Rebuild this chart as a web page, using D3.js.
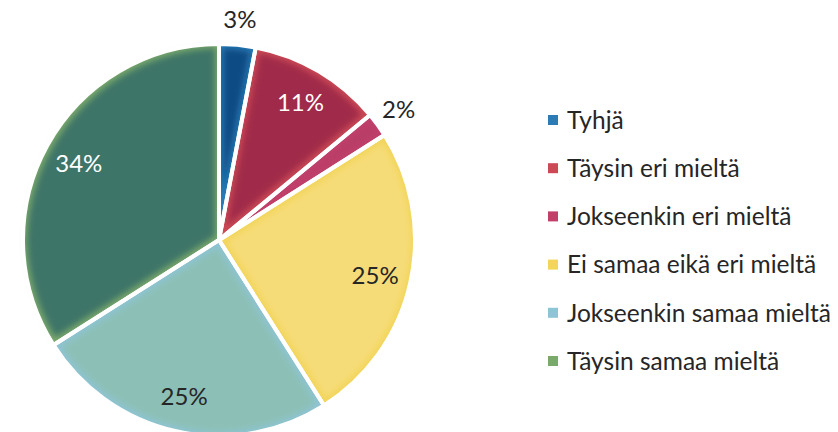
<!DOCTYPE html>
<html>
<head>
<meta charset="utf-8">
<script src="https://cdn.jsdelivr.net/npm/d3@7"></script>
<style>
  body { margin: 0; background: #fff; }
  svg text { font-family: Lato, "Open Sans", sans-serif; }
</style>
</head>
<body>
<svg id="chart"></svg>
<script>
var width = 838,
    height = 432;

var categories = ["Tyhjä", "Täysin eri mieltä", "Jokseenkin eri mieltä",
                  "Ei samaa eikä eri mieltä", "Jokseenkin samaa mieltä", "Täysin samaa mieltä"];
var shares = [3, 11, 2, 25, 25, 34];
var edgeColors = ["#2a7bb6", "#cc4a55", "#c0406a", "#f2d55a", "#8ec4d4", "#7ba96c"];
var coreColors = ["#0b4b84", "#a02b4a", "#b83c66", "#f6dc78", "#8cc0b6", "#3c7467"];
var labelColors = ["#262626", "#ffffff", "#262626", "#262626", "#262626", "#ffffff"];
var outside = [true, false, true, false, false, false];

var cx = 219, cy = 240, radius = 196;

var svg = d3.select('#chart')
            .attr('width', width)
            .attr('height', height);

var defs = svg.append('defs');
var filt = defs.append('filter')
      .attr('id', 'soft')
      .attr('x', '-10%').attr('y', '-10%')
      .attr('width', '120%').attr('height', '120%');
filt.append('feMorphology').attr('operator', 'erode').attr('radius', 4);
filt.append('feGaussianBlur').attr('stdDeviation', 3);

var pie = d3.pie().sort(null);
var arc = d3.arc().innerRadius(0).outerRadius(radius);
var inLabel = d3.arc().innerRadius(160).outerRadius(160);
var outLabel = d3.arc().innerRadius(222).outerRadius(222);

var slices = pie(shares);

var g = svg.append('g')
      .attr('transform', 'translate(' + cx + ',' + cy + ')');

// edge colour underneath, darker core on top with a soft fade
g.selectAll('.edge')
  .data(slices)
  .enter()
  .append('path')
    .classed('edge', true)
    .attr('d', arc)
    .attr('fill', (d, i) => edgeColors[i]);

g.selectAll('.core')
  .data(slices)
  .enter()
  .append('path')
    .classed('core', true)
    .attr('d', arc)
    .attr('fill', (d, i) => coreColors[i])
    .attr('filter', 'url(#soft)');

// white gaps between the slices
g.selectAll('.gap')
  .data(slices)
  .enter()
  .append('path')
    .classed('gap', true)
    .attr('d', arc)
    .attr('fill', 'none')
    .attr('stroke', '#fff')
    .attr('stroke-width', 4)
    .attr('stroke-linejoin', 'round');

g.selectAll('.lbl')
  .data(slices)
  .enter()
  .append('text')
    .classed('lbl', true)
    .attr('transform', (d, i) => 'translate(' + (outside[i] ? outLabel : inLabel).centroid(d) + ')')
    .attr('text-anchor', 'middle')
    .attr('dy', '0.36em')
    .style('font-size', '24px')
    .attr('fill', (d, i) => labelColors[i])
    .text(d => d.data + '%');

var legend = svg.append('g')
      .attr('transform', 'translate(548,115)');

var rows = legend.selectAll('.row')
  .data(categories)
  .enter()
  .append('g')
    .classed('row', true)
    .attr('transform', (d, i) => 'translate(0,' + (i * 48.2) + ')');

rows.append('rect')
    .attr('width', 10)
    .attr('height', 10)
    .attr('fill', (d, i) => edgeColors[i]);

rows.append('text')
    .attr('x', 19)
    .attr('y', 5)
    .attr('dy', '0.36em')
    .style('font-size', '24.5px')
    .attr('fill', '#262626')
    .text(d => d);
</script>
</body>
</html>
